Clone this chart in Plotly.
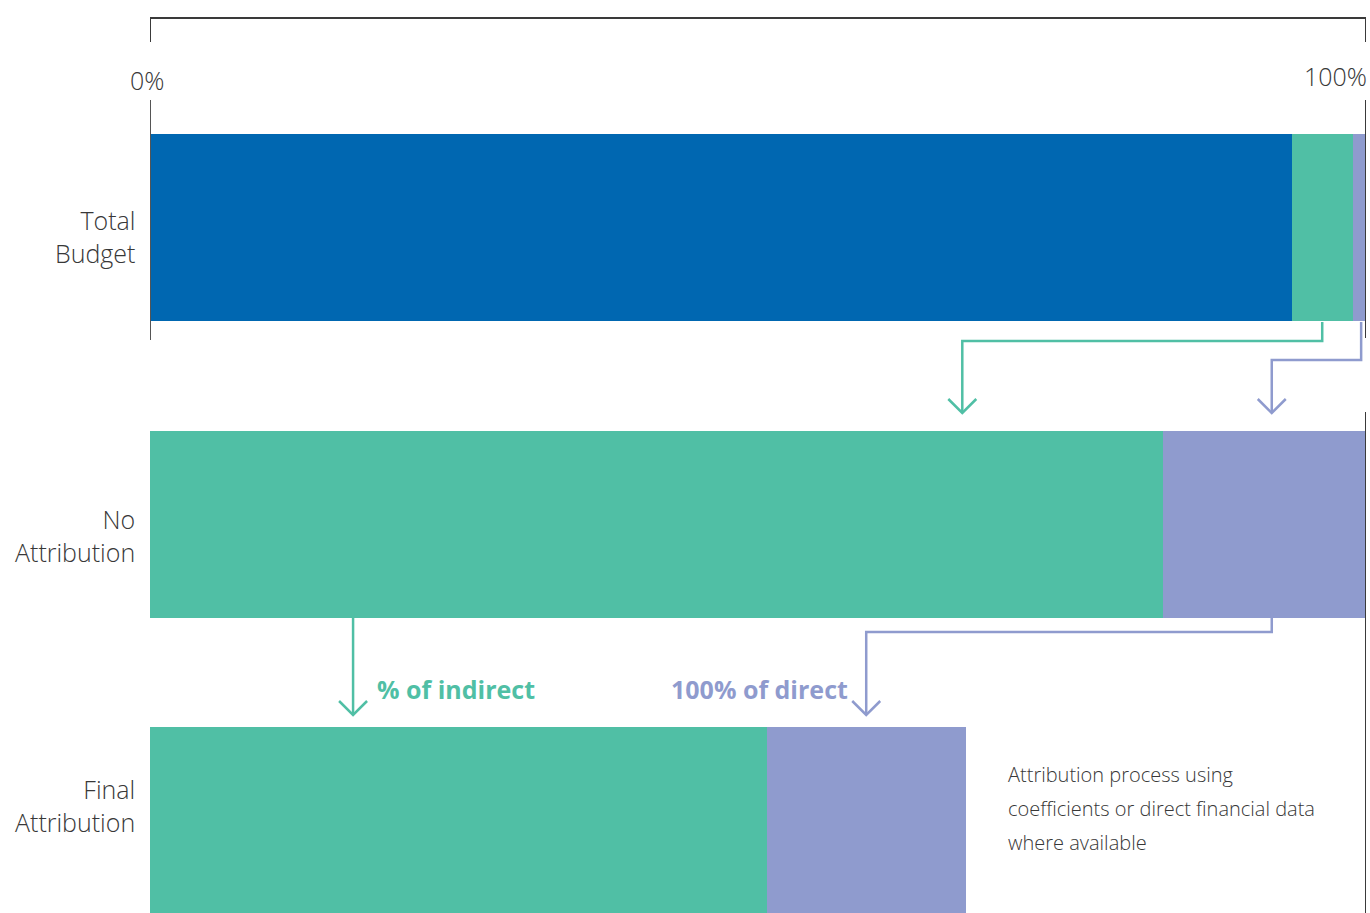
import plotly.graph_objects as go

# Shares of total (percent)
stages = ["Total<br>Budget", "No<br>Attribution", "Final<br>Attribution"]
core = [93.9, 0, 0]          # blue: core budget
indirect = [5.0, 83.3, 50.7]  # green: indirect
direct = [1.1, 16.7, 16.4]    # purple: direct

note_lines = ["Attribution process using",
              "coefficients or direct financial data",
              "where available"]

BLUE = "#0067B1"
GREEN = "#50BFA5"
PURPLE = "#8F9BCE"
AXIS = "#3a3a3a"
TEXT = "#383838"
FONT = "Open Sans"

W, H = 1370, 913


def py(p):
    """pixel row -> paper y"""
    return 1 - p / H


fig = go.Figure()
for name, vals, col in [("Core", core, BLUE), ("Indirect", indirect, GREEN), ("Direct", direct, PURPLE)]:
    fig.add_trace(go.Bar(
        y=stages, x=vals, orientation="h", name=name,
        marker=dict(color=col, line=dict(width=0)),
        width=0.63, hoverinfo="x+name",
    ))

shapes = []


def seg(x0, y0, x1, y1, color, width=2):
    shapes.append(dict(type="line", xref="x", yref="paper", x0=x0, x1=x1,
                       y0=y0, y1=y1, line=dict(color=color, width=width)))


# top bracket
seg(0, py(18), 100, py(18), AXIS)
seg(0, py(18), 0, py(42), AXIS)
seg(100, py(18), 100, py(42), AXIS)
seg(0, py(100), 0, py(340), "#555555")
seg(100, py(100), 100, py(338), AXIS)
seg(100, py(412), 100, py(913), AXIS)


def connector(xs, ps, color):
    """polyline in x-data / pixel rows, ending with a chevron arrowhead"""
    path = "M " + " L ".join(f"{x},{py(p)}" for x, p in zip(xs, ps))
    shapes.append(dict(type="path", xref="x", yref="paper", path=path,
                       line=dict(color=color, width=2.5)))
    tip_x, tip_p = xs[-1], ps[-1]
    dx = 14 / 1216 * 100
    arrow = f"M {tip_x - dx},{py(tip_p - 14)} L {tip_x},{py(tip_p)} L {tip_x + dx},{py(tip_p - 14)}"
    shapes.append(dict(type="path", xref="x", yref="paper", path=arrow,
                       line=dict(color=color, width=2.5)))


mid_direct1 = indirect[1] + direct[1] / 2 + 0.6
mid_direct2 = indirect[2] + direct[2] / 2
connector([core[0] + indirect[0] / 2] * 2 + [66.8] * 2, [322, 341, 341, 413], GREEN)
connector([99.6, 99.6, mid_direct1, mid_direct1], [322, 360, 360, 413], PURPLE)
connector([16.7, 16.7], [612, 715], GREEN)
connector([mid_direct1, mid_direct1, mid_direct2, mid_direct2], [612, 632, 632, 715], PURPLE)

annotations = [
    dict(x=0, y=py(80), text="0%", xanchor="center", xshift=-3,
         font=dict(family=FONT, size=25, color=TEXT, weight=300)),
    dict(x=100, y=py(76), text="100%", xanchor="right", xshift=3,
         font=dict(family=FONT, size=25, color=TEXT, weight=300)),
    dict(x=18.5, y=py(689), text="% of indirect", xanchor="left",
         font=dict(family=FONT, size=25, color=GREEN, weight=700)),
    dict(x=57.6, y=py(689), text="100% of direct", xanchor="right",
         font=dict(family=FONT, size=25, color=PURPLE, weight=700)),
]
for i, line in enumerate(note_lines):
    annotations.append(dict(x=70.4, y=py(774 + 34 * i), text=line, xanchor="left",
                            font=dict(family=FONT, size=20, color=TEXT, weight=300)))
for a in annotations:
    a.update(xref="x", yref="paper", yanchor="middle", showarrow=False)

# stage labels beside each bar
for stage, dy in zip(stages, [-9, -11, 15]):
    annotations.append(dict(x=0, y=stage, xref="x", yref="y", text=stage,
                            xanchor="right", yanchor="middle", align="right",
                            xshift=-13, yshift=dy, showarrow=False,
                            font=dict(family=FONT, size=25, color=TEXT, weight=300)))

fig.update_layout(
    barmode="stack",
    width=W, height=H,
    margin=dict(l=150, r=4, t=0, b=0),
    paper_bgcolor="white", plot_bgcolor="white",
    showlegend=False,
    shapes=shapes,
    annotations=annotations,
    xaxis=dict(range=[0, 100], visible=False, fixedrange=True),
    yaxis=dict(range=[2.31, -0.765], showgrid=False, zeroline=False,
               showline=False, showticklabels=False, ticks=""),
    font=dict(family=FONT),
)

fig.write_html("out.html", config={"displayModeBar": False},
               post_script="document.body.style.margin='0';document.body.style.overflow='hidden';")
